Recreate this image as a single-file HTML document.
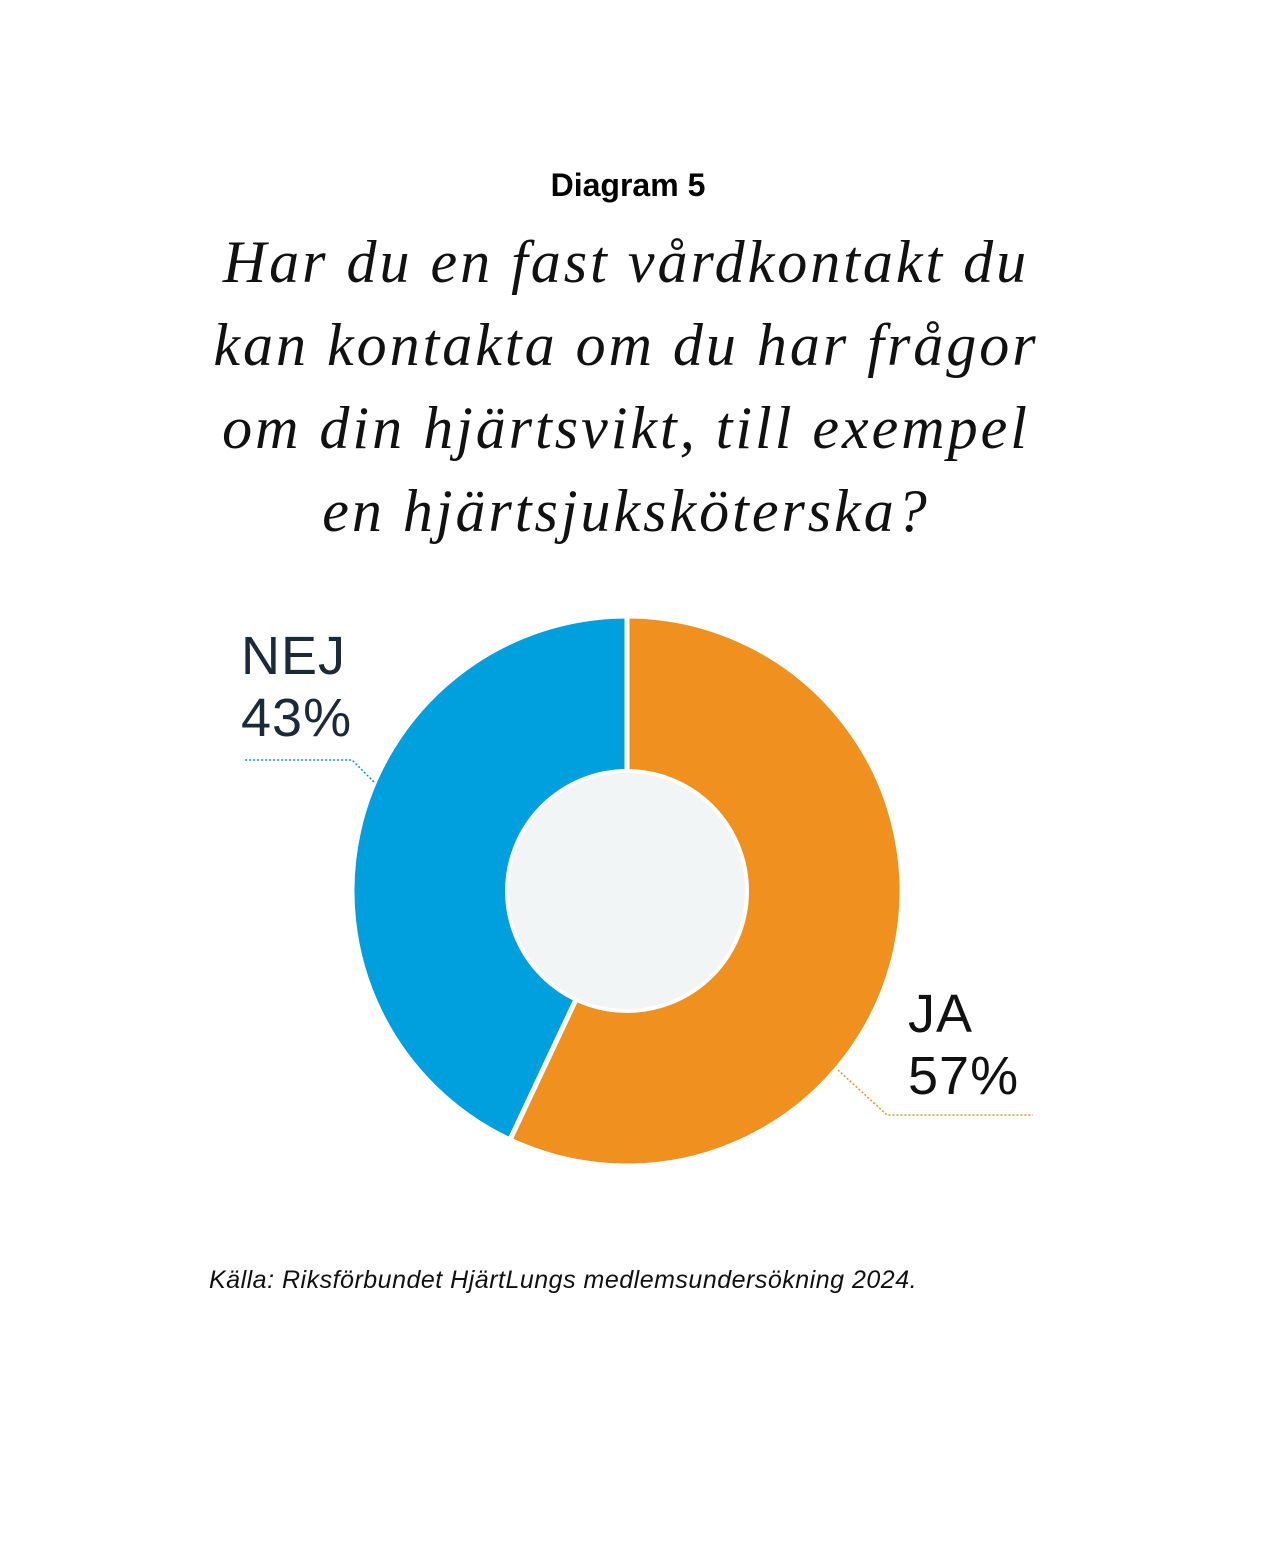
<!DOCTYPE html>
<html><head><meta charset="utf-8"><style>
body{margin:0;background:#fff;}
#wrap{position:relative;width:1276px;height:1545px;overflow:hidden;}
.t{position:absolute;white-space:nowrap;}
</style></head><body>
<div id="wrap">
<div class="t" style="left:0;width:1256px;text-align:center;top:167px;font:bold 32px 'Liberation Sans',sans-serif;color:#000;">Diagram 5</div>
<div class="t" style="left:0;width:1252px;text-align:center;top:221px;font:italic 60px/83px 'Liberation Serif',serif;letter-spacing:3px;color:#111;">Har du en fast vårdkontakt du<br>kan kontakta om du har frågor<br>om din hjärtsvikt, till exempel<br>en hjärtsjuksköterska?</div>
<svg id="chart" width="1276" height="1545" style="position:absolute;left:0;top:0"></svg>
<div class="t" style="left:209px;top:1266px;font:italic 25px 'Liberation Sans',sans-serif;color:#111;letter-spacing:0.5px;">Källa: Riksförbundet HjärtLungs medlemsundersökning 2024.</div>
</div>
<script>
const categories=["JA","NEJ"];
const values=[57,43];
const colors=["#f0901e","#009fdd"];
const svg=document.getElementById('chart');
const NS='http://www.w3.org/2000/svg';
const cx=627,cy=891,R=275,r=120;
const total=values.reduce((a,b)=>a+b,0);
function pt(a,rad){return [cx+rad*Math.sin(a),cy-rad*Math.cos(a)];}
let start=0;
values.forEach((v,i)=>{
  const end=start+v/total*2*Math.PI;
  const large=(end-start)>Math.PI?1:0;
  const [x1,y1]=pt(start,R),[x2,y2]=pt(end,R);
  const p=document.createElementNS(NS,'path');
  p.setAttribute('d',`M${cx},${cy} L${x1},${y1} A${R},${R} 0 ${large} 1 ${x2},${y2} Z`);
  p.setAttribute('fill',colors[i]);p.setAttribute('stroke','#fff');p.setAttribute('stroke-width','5');
  
  
  svg.appendChild(p);
  start=end;
});
const c=document.createElementNS(NS,'circle');
c.setAttribute('cx',cx);c.setAttribute('cy',cy);c.setAttribute('r',r);
c.setAttribute('fill','#f2f5f6');c.setAttribute('stroke','#fff');c.setAttribute('stroke-width','4');


svg.appendChild(c);
const l1=document.createElementNS(NS,'polyline');
l1.setAttribute('points','245,760 352,760 375,783');
l1.setAttribute('fill','none');l1.setAttribute('stroke','#009fdd');l1.setAttribute('stroke-width','1.5');l1.setAttribute('stroke-dasharray','2,2');


svg.appendChild(l1);
const l2=document.createElementNS(NS,'polyline');
l2.setAttribute('points','838,1070 887,1115 1033,1115');
l2.setAttribute('fill','none');l2.setAttribute('stroke','#f0901e');l2.setAttribute('stroke-width','1.5');l2.setAttribute('stroke-dasharray','2,2');


svg.appendChild(l2);
function label(x,y,txt,name,col){
  const t=document.createElementNS(NS,'text');
  t.setAttribute('x',x);t.setAttribute('y',y);t.setAttribute('fill',col);
  t.setAttribute('font-family','Liberation Sans, sans-serif');t.setAttribute('font-size','54');
  t.setAttribute('letter-spacing','1');
  t.textContent=txt;
  
  
  svg.appendChild(t);
}
label(241,674,categories[1],'label-nej','#1a2a3a');
label(241,736,values[1]+'%','value-nej','#1a2a3a');
label(908,1032,categories[0],'label-ja','#111');
label(908,1094,values[0]+'%','value-ja','#111');
</script>
</body></html>
